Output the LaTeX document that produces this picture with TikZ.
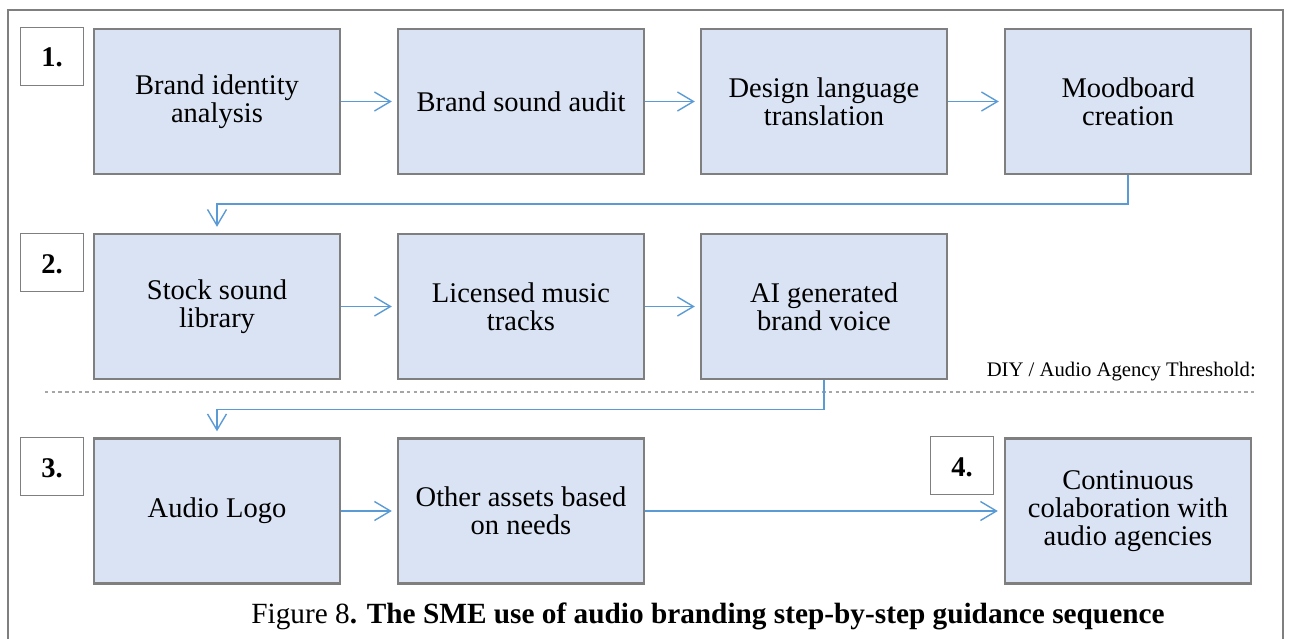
\documentclass[tikz,border=0pt]{standalone}
\usepackage{fontspec}
\setmainfont{Liberation Serif}
\usetikzlibrary{arrows.meta,calc}

\definecolor{boxfill}{HTML}{DAE3F3}
\definecolor{boxline}{HTML}{7F7F7F}
\definecolor{flowblue}{HTML}{5B9BD5}
\definecolor{dotgray}{HTML}{A6A6A6}

\tikzset{
  stepbox/.style={draw=boxline, line width=2.4pt, fill=boxfill,
    minimum width=246pt, minimum height=145pt, inner sep=0pt, align=center,
    font=\fontsize{28.5}{28}\selectfont},
  numbox/.style={draw=boxline, line width=1.8pt, fill=white,
    minimum width=63pt, minimum height=58pt, inner sep=0pt},
  numtext/.style={anchor=base, inner sep=0pt, font=\fontsize{28.5}{30}\selectfont\bfseries},
  flow/.style={draw=flowblue, line width=1.4pt,
    -{Straight Barb[length=16pt,width=19pt,line width=1.4pt]}},
}

\begin{document}
\begin{tikzpicture}[x=1pt,y=-1pt]
\useasboundingbox (0,0) rectangle (1290,639);
\clip (0,0) rectangle (1290,639);

% outer frame, open at the bottom
\draw[boxline, line width=2.2pt] (8,660) -- (8,10) -- (1283,10) -- (1283,660);

% step numbers
\node[numbox] (n1) at (52,56.5) {};
\node[numbox] (n2) at (52,262.5) {};
\node[numbox] (n3) at (52,466.5) {};
\node[numbox] (n4) at (962,465.5) {};
\node[numtext] (t1) at (52,67) {1.};
\node[numtext] (t2) at (52,273) {2.};
\node[numtext] (t3) at (52,477) {3.};
\node[numtext] (t4) at (962,476) {4.};

% row 1
\node[stepbox] (a1) at (217,101.5) {Brand identity\\analysis};
\node[stepbox] (a2) at (521,101.5) {Brand sound audit};
\node[stepbox] (a3) at (824,101.5) {Design language\\translation};
\node[stepbox] (a4) at (1128,101.5) {Moodboard\\creation};

% row 2
\node[stepbox] (b1) at (217,306.5) {Stock sound\\library};
\node[stepbox] (b2) at (521,306.5) {Licensed music\\tracks};
\node[stepbox] (b3) at (824,306.5) {AI generated\\brand voice};

% row 3
\node[stepbox] (c1) at (217,511) {Audio Logo};
\node[stepbox] (c2) at (521,511) {Other assets based\\on needs};
\node[stepbox] (c3) at (1128,511) {Continuous\\colaboration with\\audio agencies};

% threshold line and its label
\draw[dotgray, line width=2.8pt, dash pattern=on 3.4pt off 3.3pt] (45,392) -- (1256,392);
\node[anchor=base east, inner sep=0pt, font=\fontsize{20.7}{22}\selectfont] (thr) at (1256,376) {DIY / Audio Agency Threshold:};

% connectors
\draw[flow] (a1.east) -- ([xshift=-5pt]a2.west);
\draw[flow] (a2.east) -- ([xshift=-5pt]a3.west);
\draw[flow] (a3.east) -- ([xshift=-5pt]a4.west);
\draw[flow] (a4.south) -- ++(0,29) -| ([yshift=6pt]b1.north);
\draw[flow] (b1.east) -- ([xshift=-5pt]b2.west);
\draw[flow] (b2.east) -- ([xshift=-5pt]b3.west);
\draw[flow] (b3.south) -- ++(0,29) -| ([yshift=6pt]c1.north);
\draw[flow] (c1.east) -- ([xshift=-5pt]c2.west);
\draw[flow] (c2.east) -- ([xshift=-6pt]c3.west);

% caption
\node[anchor=base, inner sep=0pt, font=\fontsize{29.3}{30}\selectfont] (cap) at (708,623)
  {Figure 8\textbf{. The SME use of audio branding step-by-step guidance sequence}};
\end{tikzpicture}
\end{document}
